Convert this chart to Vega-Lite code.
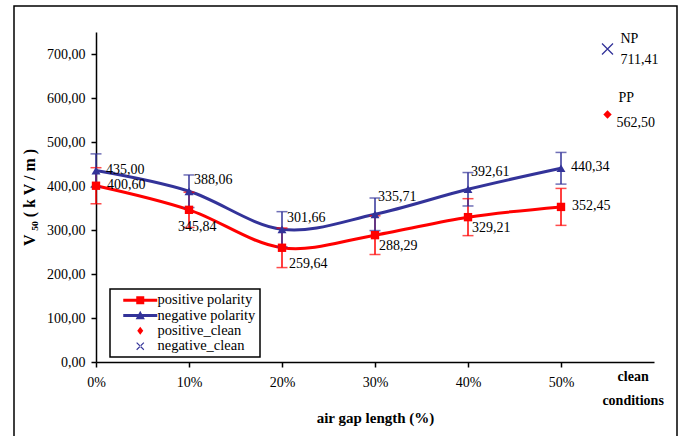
{
  "$schema": "https://vega.github.io/schema/vega-lite/v6.json",
  "width": 663,
  "height": 440,
  "autosize": {"type": "none"},
  "padding": {"left": 14, "top": 6, "right": 4, "bottom": 0},
  "background": "white",
  "config": {
    "locale": {"number": {"decimal": ",", "thousands": ".", "grouping": [3], "currency": ["", ""]}},
    "view": {"stroke": "black", "strokeWidth": 1.5},
    "font": "Times New Roman, Liberation Serif, serif",
    "text": {"font": "Times New Roman, Liberation Serif, serif", "fontSize": 14, "color": "black"},
    "axis": {"domainColor": "black", "tickColor": "black", "labelColor": "black", "titleColor": "black", "grid": false, "labelFont": "Times New Roman, Liberation Serif, serif", "titleFont": "Times New Roman, Liberation Serif, serif", "labelFontSize": 14, "titleFontSize": 15, "domainWidth": 1.5, "tickWidth": 1.5, "tickSize": 5},
    "legend": {"strokeWidth": 1.5, "labelFont": "Times New Roman, Liberation Serif, serif"}
  },
  "data": {"values": [
    {"gap": 0, "series": "positive polarity", "v": 400.60, "lo": 359.6, "hi": 441.6},
    {"gap": 10, "series": "positive polarity", "v": 345.84, "lo": 305.8, "hi": 385.8},
    {"gap": 20, "series": "positive polarity", "v": 259.64, "lo": 214.6, "hi": 304.6},
    {"gap": 30, "series": "positive polarity", "v": 288.29, "lo": 244.3, "hi": 332.3},
    {"gap": 40, "series": "positive polarity", "v": 329.21, "lo": 287.2, "hi": 371.2},
    {"gap": 50, "series": "positive polarity", "v": 352.45, "lo": 310.5, "hi": 394.5},
    {"gap": 0, "series": "negative polarity", "v": 435.00, "lo": 397.0, "hi": 473.0},
    {"gap": 10, "series": "negative polarity", "v": 388.06, "lo": 351.1, "hi": 425.1},
    {"gap": 20, "series": "negative polarity", "v": 301.66, "lo": 261.7, "hi": 341.7},
    {"gap": 30, "series": "negative polarity", "v": 335.71, "lo": 298.7, "hi": 372.7},
    {"gap": 40, "series": "negative polarity", "v": 392.61, "lo": 354.6, "hi": 430.6},
    {"gap": 50, "series": "negative polarity", "v": 440.34, "lo": 404.3, "hi": 476.3},
    {"gap": 55, "series": "positive_clean", "v": 562.50, "name": "PP"},
    {"gap": 55, "series": "negative_clean", "v": 711.41, "name": "NP"}
  ]},
  "encoding": {
    "x": {
      "field": "gap", "type": "quantitative",
      "scale": {"domain": [0, 60], "range": [82, 640]},
      "axis": {
        "values": [0, 10, 20, 30, 40, 50, 57.7],
        "labelExpr": "datum.value > 55 ? ['clean', 'conditions'] : datum.value + '%'",
        "labelFlush": false, "labelOverlap": false,
        "labelFontWeight": {"condition": {"test": "datum.value > 55", "value": "bold"}, "value": "normal"},
        "tickOpacity": {"condition": {"test": "datum.value > 55", "value": 0}, "value": 1},
        "labelPadding": {"condition": {"test": "datum.value > 55", "value": 2}, "value": 8},
        "labelLineHeight": 24,
        "offset": -84,
        "title": "air gap length (%)", "titleFontWeight": "bold", "titlePadding": 3
      }
    },
    "y": {
      "field": "v", "type": "quantitative",
      "scale": {"domain": [0, 750], "range": [356, 26]},
      "axis": {
        "values": [0, 100, 200, 300, 400, 500, 600, 700],
        "format": ".2f", "labelFlush": false, "labelOverlap": false,
        "offset": -82, "labelPadding": 6,
        "title": "V ₅₀ ( k V / m )", "titleFontWeight": "bold", "titleFontSize": 16, "titlePadding": 9
      }
    }
  },
  "layer": [
    {"transform": [{"filter": "datum.series == 'positive polarity'"}],
     "mark": {"type": "line", "interpolate": "cardinal", "color": "#FF0000", "strokeWidth": 3, "clip": false}},
    {"transform": [{"filter": "datum.series == 'negative polarity'"}],
     "mark": {"type": "line", "interpolate": "cardinal", "color": "#333399", "strokeWidth": 3, "clip": false}},
    {"transform": [{"filter": "isValid(datum.lo)"}],
     "mark": {"type": "rule", "strokeWidth": 1.5},
     "encoding": {"y": {"field": "lo", "type": "quantitative"}, "y2": {"field": "hi"},
       "color": {"condition": {"test": "datum.series == 'positive polarity'", "value": "#FF0000"}, "value": "#333399"}}},
    {"transform": [{"filter": "isValid(datum.lo)"}],
     "mark": {"type": "tick", "orient": "horizontal", "size": 11, "thickness": 1.5},
     "encoding": {"y": {"field": "lo", "type": "quantitative"},
       "color": {"condition": {"test": "datum.series == 'positive polarity'", "value": "#FF0000"}, "value": "#333399"}}},
    {"transform": [{"filter": "isValid(datum.hi)"}],
     "mark": {"type": "tick", "orient": "horizontal", "size": 11, "thickness": 1.5},
     "encoding": {"y": {"field": "hi", "type": "quantitative"},
       "color": {"condition": {"test": "datum.series == 'positive polarity'", "value": "#FF0000"}, "value": "#333399"}}},
    {"transform": [{"filter": "datum.series == 'positive polarity'"}],
     "mark": {"type": "point", "shape": "square", "filled": true, "size": 70, "color": "#FF0000", "opacity": 1}},
    {"transform": [{"filter": "datum.series == 'negative polarity'"}],
     "mark": {"type": "point", "shape": "triangle-up", "filled": true, "size": 80, "color": "#333399", "opacity": 1}},
    {"transform": [{"filter": "datum.series == 'positive_clean'"}],
     "mark": {"type": "point", "shape": "diamond", "filled": true, "size": 70, "color": "#FF0000", "opacity": 1}},
    {"transform": [{"filter": "datum.series == 'negative_clean'"}],
     "mark": {"type": "point", "shape": "M-1,-1L1,1M-1,1L1,-1", "filled": false, "size": 121, "color": "#333399", "strokeWidth": 1.3, "opacity": 1}},
    {"mark": {"type": "point", "filled": true, "opacity": 0, "size": 64},
     "encoding": {
       "color": {"field": "series", "type": "nominal",
         "scale": {"domain": ["positive polarity", "negative polarity", "positive_clean", "negative_clean"], "range": ["#FF0000", "#333399", "#FF0000", "#333399"]},
         "legend": {"orient": "none", "legendX": 96, "legendY": 283, "title": null, "strokeColor": "black", "fillColor": "white", "padding": 4, "symbolOffset": 19, "labelOffset": 10, "symbolSize": 64, "labelFontSize": 14.5, "labelColor": "black", "rowPadding": 0.3, "symbolOpacity": 1, "symbolStrokeWidth": 0, "labelLimit": 200}},
       "shape": {"field": "series", "type": "nominal",
         "scale": {"domain": ["positive polarity", "negative polarity", "positive_clean", "negative_clean"],
           "range": ["M-4.25,-0.375H4.25V0.375H-4.25Z M-1,-1H1V1H-1Z", "M-4.25,-0.375H4.25V0.375H-4.25Z M0,-1.2L1.15,0.9L-1.15,0.9Z", "M0,-1L0.75,0L0,1L-0.75,0Z", "M-1,-0.8L-0.8,-1L1,0.8L0.8,1Z M1,-0.8L0.8,-1L-1,0.8L-0.8,1Z"]},
         "legend": {"orient": "none", "legendX": 96, "legendY": 283, "title": null, "strokeColor": "black", "fillColor": "white", "padding": 4, "symbolOffset": 19, "labelOffset": 10, "symbolSize": 64, "labelFontSize": 14.5, "labelColor": "black", "rowPadding": 0.3, "symbolOpacity": 1, "symbolStrokeWidth": 0, "labelLimit": 200}}
     }},
    {"transform": [{"filter": "datum.series == 'negative polarity' && (datum.gap == 0 || datum.gap == 50)"}],
     "mark": {"type": "text", "align": "left", "baseline": "middle", "dx": 10, "dy": -1},
     "encoding": {"text": {"field": "v", "type": "quantitative", "format": ".2f"}}},
    {"transform": [{"filter": "datum.series == 'negative polarity' && (datum.gap == 10 || datum.gap == 20)"}],
     "mark": {"type": "text", "align": "left", "baseline": "middle", "dx": 5, "dy": -11},
     "encoding": {"text": {"field": "v", "type": "quantitative", "format": ".2f"}}},
    {"transform": [{"filter": "datum.series == 'negative polarity' && (datum.gap == 30 || datum.gap == 40)"}],
     "mark": {"type": "text", "align": "left", "baseline": "middle", "dx": 3, "dy": -17},
     "encoding": {"text": {"field": "v", "type": "quantitative", "format": ".2f"}}},
    {"transform": [{"filter": "datum.series == 'positive polarity' && (datum.gap == 0 || datum.gap == 50)"}],
     "mark": {"type": "text", "align": "left", "baseline": "middle", "dx": 11, "dy": -1},
     "encoding": {"text": {"field": "v", "type": "quantitative", "format": ".2f"}}},
    {"transform": [{"filter": "datum.series == 'positive polarity' && datum.gap == 10"}],
     "mark": {"type": "text", "align": "left", "baseline": "middle", "dx": -11, "dy": 17},
     "encoding": {"text": {"field": "v", "type": "quantitative", "format": ".2f"}}},
    {"transform": [{"filter": "datum.series == 'positive polarity' && datum.gap == 20"}],
     "mark": {"type": "text", "align": "left", "baseline": "middle", "dx": 7, "dy": 16},
     "encoding": {"text": {"field": "v", "type": "quantitative", "format": ".2f"}}},
    {"transform": [{"filter": "datum.series == 'positive polarity' && (datum.gap == 30 || datum.gap == 40)"}],
     "mark": {"type": "text", "align": "left", "baseline": "middle", "dx": 4, "dy": 11},
     "encoding": {"text": {"field": "v", "type": "quantitative", "format": ".2f"}}},
    {"transform": [{"filter": "datum.series == 'negative_clean'"}],
     "mark": {"type": "text", "align": "left", "baseline": "middle", "dx": 13, "dy": -10},
     "encoding": {"text": {"field": "name", "type": "nominal"}}},
    {"transform": [{"filter": "datum.series == 'negative_clean'"}],
     "mark": {"type": "text", "align": "left", "baseline": "middle", "dx": 13, "dy": 11},
     "encoding": {"text": {"field": "v", "type": "quantitative", "format": ".2f"}}},
    {"transform": [{"filter": "datum.series == 'positive_clean'"}],
     "mark": {"type": "text", "align": "left", "baseline": "middle", "dx": 11, "dy": -17},
     "encoding": {"text": {"field": "name", "type": "nominal"}}},
    {"transform": [{"filter": "datum.series == 'positive_clean'"}],
     "mark": {"type": "text", "align": "left", "baseline": "middle", "dx": 9, "dy": 8},
     "encoding": {"text": {"field": "v", "type": "quantitative", "format": ".2f"}}}
  ]
}
